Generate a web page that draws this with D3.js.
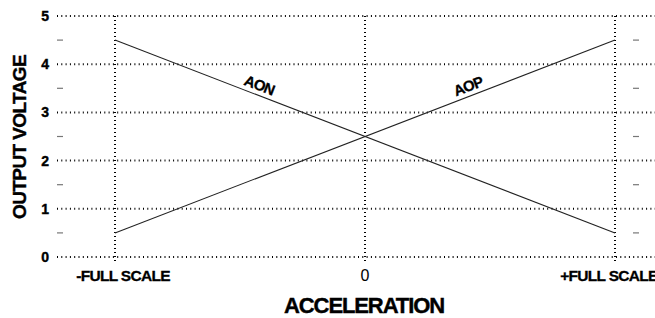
<!DOCTYPE html>
<html>
<head>
<meta charset="utf-8">
<script src="https://cdn.jsdelivr.net/npm/d3@7"></script>
<style>
  body { margin: 0; background: #fff; }
  svg { display: block; }
  text { font-family: "Liberation Sans", Arial, sans-serif; }
</style>
</head>
<body>
<div id="app"></div>
<script>
// data
const xTicks = [-1, 0, 1];
const xTickLabels = ['-FULL SCALE', '0', '+FULL SCALE'];
const yTicks = [0, 1, 2, 3, 4, 5];
const yMinorTicks = [0.5, 1.5, 2.5, 3.5, 4.5];
const accel = [-1, 1];
const aonValues = [4.5, 0.5];
const aopValues = [0.5, 4.5];
const seriesNames = ['AON', 'AOP'];

const width = 655;
const height = 318;

const svg = d3.select('#app')
  .append('svg')
  .attr('width', width)
  .attr('height', height);

const x = d3.scaleLinear().domain([-1, 1]).range([115, 615]);
const y = d3.scaleLinear().domain([0, 5]).range([257, 16]);

const gridLeft = 57;
const gridRight = 655;

// horizontal dotted grid
svg.append('g')
  .selectAll('line')
  .data(yTicks)
  .join('line')
  .attr('x1', gridLeft)
  .attr('x2', gridRight)
  .attr('y1', d => y(d))
  .attr('y2', d => y(d))
  .attr('stroke', '#000')
  .attr('stroke-width', 2)
  .attr('stroke-dasharray', '1,3.3');

// vertical dotted grid
svg.append('g')
  .selectAll('line')
  .data(xTicks)
  .join('line')
  .attr('x1', d => x(d))
  .attr('x2', d => x(d))
  .attr('y1', y(5))
  .attr('y2', y(0) + 6)
  .attr('stroke', '#000')
  .attr('stroke-width', 2)
  .attr('stroke-dasharray', '1,3');

// minor dashes on both sides
[gridLeft + 3, 636].forEach((cx) => {
  svg.append('g')
    .selectAll('line')
    .data(yMinorTicks)
    .join('line')
    .attr('x1', cx - 3)
    .attr('x2', cx + 3)
    .attr('y1', d => y(d))
    .attr('y2', d => y(d))
    .attr('stroke', '#777')
    .attr('stroke-width', 1.2);
});

// y tick labels
svg.append('g')
  .selectAll('text')
  .data(yTicks)
  .join('text')
  .attr('x', 49)
  .attr('y', d => y(d))
  .attr('dy', '0.36em')
  .attr('text-anchor', 'end')
  .attr('font-size', 14)
  .attr('font-weight', 'bold')
  .attr('stroke', '#000')
  .attr('stroke-width', 0.4)
  .text(d => d);

// x tick labels (the outer ones sit a little right of their gridline)
const xLabelShift = [8, 0, -6];
svg.append('g')
  .selectAll('text')
  .data(xTicks)
  .join('text')
  .attr('x', (d, i) => x(d) + xLabelShift[i])
  .attr('y', 281)
  .attr('text-anchor', 'middle')
  .attr('font-size', (d) => (d === 0 ? 16 : 15.5))
  .attr('font-weight', (d) => (d === 0 ? 'normal' : 'bold'))
  .attr('stroke', (d) => (d === 0 ? 'none' : '#000'))
  .attr('stroke-width', 0.3)
  .attr('letter-spacing', (d) => (d === 0 ? 0 : -0.7))
  .text((d, i) => xTickLabels[i]);

// axis titles
svg.append('text')
  .attr('transform', 'translate(26,137) rotate(-90)')
  .attr('text-anchor', 'middle')
  .attr('font-size', 19)
  .attr('font-weight', 'bold')
  .attr('stroke', '#000')
  .attr('stroke-width', 0.4)
  .attr('letter-spacing', -0.6)
  .text('OUTPUT VOLTAGE');

svg.append('text')
  .attr('x', 364)
  .attr('y', 313)
  .attr('text-anchor', 'middle')
  .attr('font-size', 22)
  .attr('font-weight', 'bold')
  .attr('stroke', '#000')
  .attr('stroke-width', 0.4)
  .attr('letter-spacing', -1.1)
  .text('ACCELERATION');

// series lines
const line = d3.line()
  .x((d, i) => x(accel[i]))
  .y(d => y(d));

[aonValues, aopValues].forEach((vals) => {
  svg.append('path')
    .datum(vals)
    .attr('d', line)
    .attr('fill', 'none')
    .attr('stroke', '#222')
    .attr('stroke-width', 1.1);
});

// series labels along the lines
const angle = Math.atan2(y(0.5) - y(4.5), x(1) - x(-1)) * 180 / Math.PI;
const labelPos = [-0.43, 0.42];
[aonValues, aopValues].forEach((vals, i) => {
  const t = (labelPos[i] + 1) / 2;
  const v = vals[0] + (vals[1] - vals[0]) * t;
  const a = i === 0 ? angle : -angle;
  svg.append('text')
    .attr('transform', `translate(${x(labelPos[i])},${y(v) - 5}) rotate(${a})`)
    .attr('text-anchor', 'middle')
    .attr('font-size', 15)
    .attr('font-weight', 'bold')
    .attr('stroke', '#000')
    .attr('stroke-width', 0.3)
    .attr('letter-spacing', -0.8)
    .text(seriesNames[i]);
});
</script>
</body>
</html>
